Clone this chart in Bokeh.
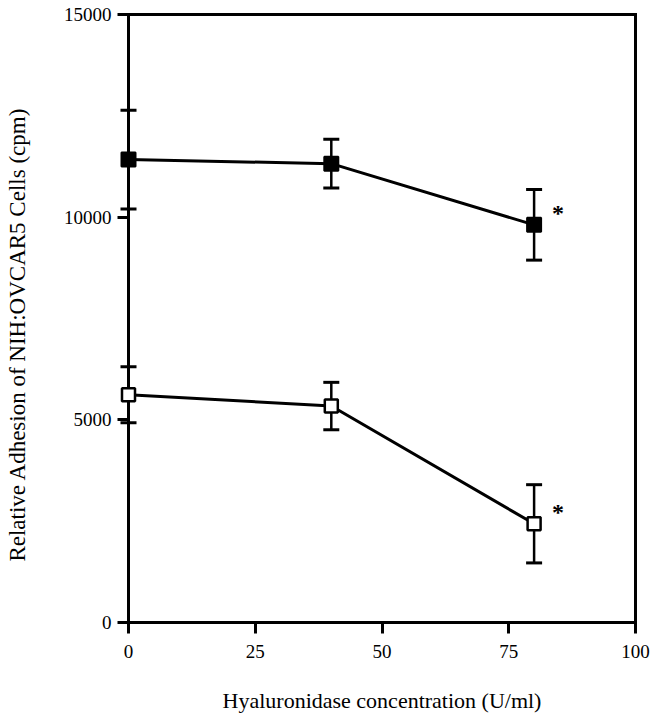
from bokeh.plotting import figure
from bokeh.models import (Range1d, FixedTicker, Whisker, TeeHead, ColumnDataSource,
                          LinearAxis, Label)
from bokeh.core.properties import value
from bokeh.embed import file_html
from bokeh.resources import INLINE

# ---- data ----
concentration = [0, 40, 80]                  # U/ml
filled_mean = [11420, 11320, 9810]           # cpm
filled_err = [1220, 600, 870]
open_mean = [5620, 5340, 2435]
open_err = [690, 585, 965]
significance = ["", "", "*"]

x_ticks = [0, 25, 50, 75, 100]
y_ticks = [0, 5000, 10000, 15000]
x_title = "Hyaluronidase concentration (U/ml)"
y_title = "Relative Adhesion of NIH:OVCAR5 Cells (cpm)"

X_MIN, X_MAX = 0, 100
Y_MIN, Y_MAX = 0, 15000

FONT = "Liberation Serif"

# The plotting frame covers the whole canvas; the four sides of the box are axes fixed
# at the data limits, so the markers that sit on the y axis are drawn whole.
W, H = 658, 719
LEFT, RIGHT, TOP, BOTTOM = 128, 635, 14, 622          # pixel box of the data area
sx = (X_MAX - X_MIN) / (RIGHT - LEFT)
sy = (Y_MAX - Y_MIN) / (BOTTOM - TOP)
x_range = Range1d(X_MIN - LEFT * sx, X_MAX + (W - RIGHT) * sx)
y_range = Range1d(Y_MIN - (H - BOTTOM) * sy, Y_MAX + TOP * sy)

p = figure(width=W, height=H, output_backend="svg", toolbar_location=None,
           x_range=x_range, y_range=y_range,
           x_axis_location=None, y_axis_location=None, min_border=0)

p.xgrid.visible = False
p.ygrid.visible = False
p.outline_line_color = None
p.background_fill_color = "white"
p.border_fill_color = "white"

common = dict(axis_line_width=3, axis_line_color="black", axis_line_cap="square",
              minor_tick_line_color=None)

bottom = LinearAxis(fixed_location=Y_MIN, bounds=(X_MIN, X_MAX), ticker=FixedTicker(ticks=x_ticks),
                    major_tick_line_width=3, major_tick_line_color="black",
                    major_tick_in=0, major_tick_out=11,
                    major_label_text_font=FONT, major_label_text_font_size="19px",
                    major_label_text_color="black", major_label_standoff=11, **common)
p.add_layout(bottom, "below")

left = LinearAxis(fixed_location=X_MIN, bounds=(Y_MIN, Y_MAX), ticker=FixedTicker(ticks=y_ticks),
                  major_tick_line_width=3, major_tick_line_color="black",
                  major_tick_in=0, major_tick_out=11,
                  major_label_text_font=FONT, major_label_text_font_size="19px",
                  major_label_text_color="black", major_label_standoff=6, **common)
p.add_layout(left, "left")

top = LinearAxis(fixed_location=Y_MAX, bounds=(X_MIN, X_MAX), ticker=FixedTicker(ticks=[]),
                 major_tick_line_color=None, major_label_text_font_size="0px", **common)
p.add_layout(top, "above")

right = LinearAxis(fixed_location=X_MAX, bounds=(Y_MIN, Y_MAX), ticker=FixedTicker(ticks=[]),
                   major_tick_line_color=None, major_label_text_font_size="0px", **common)
p.add_layout(right, "right")

# axis titles
p.add_layout(Label(x=(X_MIN + X_MAX) / 2, y=Y_MIN - 78 * sy, text=x_title,
                   text_align="center", text_baseline="middle",
                   text_font=FONT, text_font_size="22px", text_color="black"))
p.add_layout(Label(x=X_MIN - 111 * sx, y=Y_MIN + (BOTTOM - 334) * sy, text=y_title,
                   angle=1.5707963, text_align="center", text_baseline="middle",
                   text_font=FONT, text_font_size="23px", text_color="black"))

src_f = ColumnDataSource(dict(x=concentration, y=filled_mean,
                              lo=[m - e for m, e in zip(filled_mean, filled_err)],
                              hi=[m + e for m, e in zip(filled_mean, filled_err)],
                              star=significance))
src_o = ColumnDataSource(dict(x=concentration, y=open_mean,
                              lo=[m - e for m, e in zip(open_mean, open_err)],
                              hi=[m + e for m, e in zip(open_mean, open_err)],
                              star=significance))

for src in (src_f, src_o):
    w = Whisker(source=src, base="x", lower="lo", upper="hi", dimension="height",
                line_color="black", line_width=2.5, level="underlay",
                upper_head=TeeHead(size=16, line_width=3, line_color="black"),
                lower_head=TeeHead(size=16, line_width=3, line_color="black"))
    p.add_layout(w)
    p.line("x", "y", source=src, line_color="black", line_width=3)

p.scatter("x", "y", source=src_f, marker="square", size=14, fill_color="black",
          line_color="black", line_width=2, level="overlay")
p.scatter("x", "y", source=src_o, marker="square", size=13, fill_color="white",
          line_color="black", line_width=2.5, level="overlay")

for src in (src_f, src_o):
    p.text("x", "y", text="star", source=src, x_offset=24, y_offset=-12,
           text_font=value(FONT), text_font_style="bold", text_font_size="24px",
           text_align="center", text_baseline="alphabetic", text_color="black")

open("out.html", "w").write(file_html(p, INLINE))
